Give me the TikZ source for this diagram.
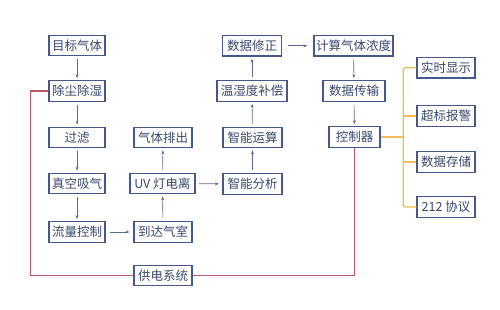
\documentclass[tikz,border=0pt]{standalone}
\usepackage{fontspec}
\setmainfont{Noto Sans CJK SC}
\usepackage{tikz}
\usetikzlibrary{arrows.meta, positioning, calc}
\definecolor{boxblue}{RGB}{68, 89, 138}
\definecolor{textblue}{RGB}{58, 72, 108}
\definecolor{arrowgrey}{RGB}{92, 106, 140}
\definecolor{powerred}{RGB}{185, 86, 106}
\definecolor{busorange}{RGB}{243, 188, 88}

\begin{document}
\begin{tikzpicture}[x=1pt, y=-1pt,
        stepbox/.style={draw=boxblue, line width=1.2pt, fill=white, text=textblue,
            font=\fontsize{12.5}{14}\selectfont, minimum height=20.5pt,
            minimum width=57pt, inner xsep=2.5pt, inner ysep=0pt},
        flow/.style={draw=arrowgrey, line width=0.6pt, -{Stealth[length=4pt, width=3pt]},
            shorten <=3pt, shorten >=2pt},
        power/.style={draw=powerred, line width=1.1pt},
        bus/.style={draw=busorange, line width=1.3pt}]
        \useasboundingbox (0,0) rectangle (500,310);

        % Gas path
        \node[stepbox, minimum width=56pt] (target) at (77, 45.5) {目标气体};
        \node[stepbox, minimum width=56pt] (dedust) at (77, 91) {除尘除湿};
        \node[stepbox, minimum width=56pt] (filter) at (77, 137.5) {过滤};
        \node[stepbox, minimum width=56pt] (vacuum) at (77, 183.5) {真空吸气};
        \node[stepbox, minimum width=56pt] (flowctl) at (77, 232) {流量控制};

        % Chamber
        \node[stepbox, minimum width=58pt] (exhaust) at (163, 137.5) {气体排出};
        \node[stepbox, minimum width=65pt] (uvlamp) at (162.5, 183.5) {UV 灯电离};
        \node[stepbox, minimum width=58pt] (chamber) at (163, 232) {到达气室};
        \node[stepbox, minimum width=58pt] (supply) at (163, 275.5) {供电系统};

        % Processing
        \node[stepbox, minimum width=59pt] (correct) at (252, 45.8) {数据修正};
        \node[stepbox, minimum width=70pt] (compens) at (252, 91) {温湿度补偿};
        \node[stepbox, minimum width=59pt] (compute) at (252.5, 137.5) {智能运算};
        \node[stepbox, minimum width=59pt] (analyse) at (252.5, 184) {智能分析};

        % Output
        \node[stepbox, minimum width=79pt, inner xsep=1.5pt] (conc) at (353.5, 45.8) {计算气体浓度};
        \node[stepbox, minimum width=62pt] (transfer) at (354, 91) {数据传输};
        \node[stepbox, minimum width=51pt] (ctrl) at (354.5, 137) {控制器};

        % Controller functions
        \node[stepbox, minimum width=58pt] (display) at (446, 67.7) {实时显示};
        \node[stepbox, minimum width=58pt] (alarm) at (446, 116) {超标报警};
        \node[stepbox, minimum width=58pt] (storage) at (446, 162) {数据存储};
        \node[stepbox, minimum width=58pt] (protocol) at (446, 207) {212 协议};

        % Arrows
        \draw[flow] (target) -- (dedust);
        \draw[flow] (dedust) -- (filter);
        \draw[flow] (filter) -- (vacuum);
        \draw[flow] (vacuum) -- (flowctl);
        \draw[flow, shorten <=4pt, shorten >=4pt] (flowctl) -- (chamber);
        \draw[flow] (chamber) -- (uvlamp);
        \draw[flow] (uvlamp) -- (exhaust);
        \draw[flow, shorten <=3.5pt, shorten >=3.5pt] (uvlamp) -- (analyse);
        \draw[flow] (analyse) -- (compute);
        \draw[flow] (compute) -- (compens);
        \draw[flow] (compens) -- (correct);
        \draw[flow, shorten <=6pt, shorten >=6pt] (correct) -- (conc);
        \draw[flow] (conc) -- (transfer);
        \draw[flow] (transfer) -- (ctrl);

        % Power supply lines
        \coordinate (pleft) at (30.7, 275.5);
        \draw[power] (dedust.west) -| (pleft) -- (supply.west);
        \draw[power] (supply.east) -| (ctrl.south);

        % Controller bus
        \coordinate (hub) at (403.3, 137);
        \draw[bus, rounded corners=2pt] (display.west) -| (hub) |- (protocol.west);
        \draw[bus] (ctrl.east) -- (hub);
        \draw[bus] (alarm.west) -- (alarm.west -| hub);
        \draw[bus] (storage.west) -- (storage.west -| hub);
    \end{tikzpicture}
\end{document}
